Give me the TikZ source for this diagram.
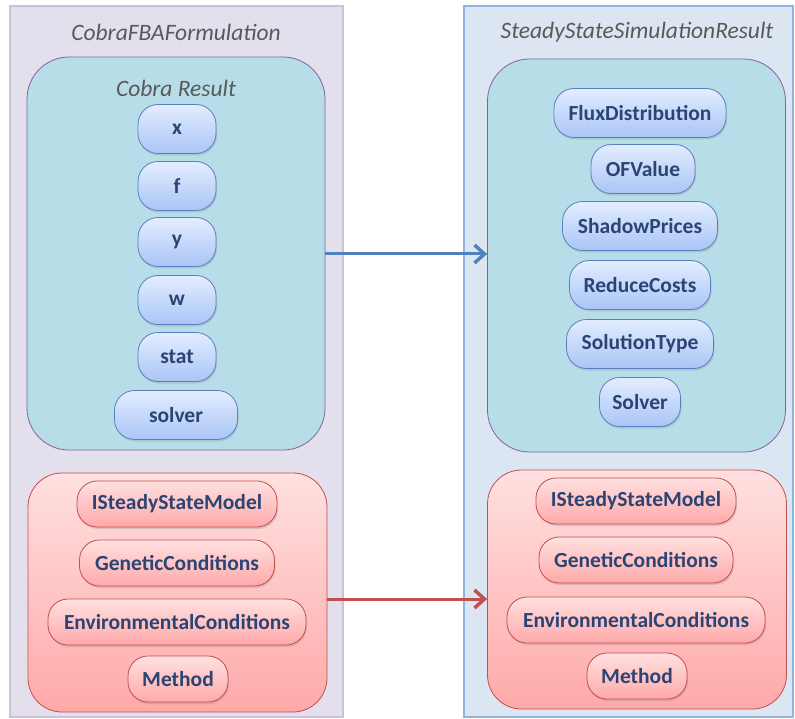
\documentclass[tikz,border=0pt]{standalone}
\usepackage{fontspec}
\setmainfont{Carlito}
\usetikzlibrary{arrows.meta,shadows}

\definecolor{lavfill}{HTML}{E4DFEC}
\definecolor{lavline}{HTML}{CCC0DA}
\definecolor{bluefill}{HTML}{DCE6F2}
\definecolor{blueline}{HTML}{8DB4E2}
\definecolor{cyanfill}{HTML}{B7DDE8}
\definecolor{boxline}{HTML}{8064A2}
\definecolor{pilltop}{HTML}{E3EDFF}
\definecolor{pillbot}{HTML}{A9C5F5}
\definecolor{pillline}{HTML}{5B7FBF}
\definecolor{redtop}{HTML}{FFE0E0}
\definecolor{redbot}{HTML}{FFA9A9}
\definecolor{redline}{HTML}{C0504D}
\definecolor{pilltext}{HTML}{2B4474}
\definecolor{titletext}{HTML}{595959}
\definecolor{arrowblue}{HTML}{4F81BD}

\tikzset{
  outerbox/.style={draw,line width=2.5pt,minimum width=#1},
  resbox/.style={draw=boxline,fill=cyanfill,line width=0.8pt,rounded corners=42pt,minimum width=298pt,minimum height=393pt},
  condbox/.style={draw=redline,top color=redtop,bottom color=redbot,line width=0.8pt,rounded corners=34pt,minimum width=299pt,minimum height=239pt},
  boxtitle/.style={text=titletext,font=\fontsize{23.5}{25}\selectfont\itshape},
  pill/.style={draw=pillline,top color=pilltop,bottom color=pillbot,line width=0.8pt,rounded corners=20pt,
    minimum height=49pt,minimum width=#1,text=pilltext,font=\fontsize{21.5}{23}\selectfont\bfseries,
    drop shadow={opacity=0.25,shadow xshift=1pt,shadow yshift=-2pt}},
  redpill/.style={pill=#1,draw=redline,top color=redtop,bottom color=redbot,minimum height=46pt},
  link/.style={line width=3pt,-{Straight Barb[length=10pt,width=18pt,line width=3.5pt]}}
}

\begin{document}
\begin{tikzpicture}[x=1pt,y=-1pt]
\useasboundingbox (0,0) rectangle (795,719);

% containers
\node[outerbox=333pt,draw=lavline,fill=lavfill,minimum height=711pt] (lout) at (176.5,361.5) {};
\node[outerbox=329pt,draw=blueline,fill=bluefill,minimum height=711pt] (rout) at (628.5,361.5) {};
\node[boxtitle] (ltitle) at (176,32) {CobraFBAFormulation};
\node[boxtitle] (rtitle) at (637,32) {SteadyStateSimulationResult};

\node[resbox] (lres) at (176,253.5) {};
\node[resbox] (rres) at (636.5,255.5) {};
\node[condbox] (lcond) at (177.5,592.5) {};
\node[condbox] (rcond) at (637,589.5) {};

\node[boxtitle] (lrestitle) at (176,88) {Cobra Result};

% left result fields
\node[pill=78pt] (x) at (177,129) {x};
\node[pill=78pt] (f) at (177,186) {f};
\node[pill=78pt] (y) at (177,242) {y};
\node[pill=78pt] (w) at (177,300) {w};
\node[pill=78pt] (stat) at (177,357) {stat};
\node[pill=123pt] (solver) at (176,415) {solver};

% right result fields
\node[pill=172pt] (flux) at (640,113) {FluxDistribution};
\node[pill=104pt] (ofv) at (643,169) {OFValue};
\node[pill=155pt] (shadow) at (640,226) {ShadowPrices};
\node[pill=141pt] (reduce) at (640,285) {ReduceCosts};
\node[pill=147pt] (soltype) at (640,344) {SolutionType};
\node[pill=81pt] (solv) at (640,402) {Solver};

% conditions
\node[redpill=200pt] (lmodel) at (177,504) {ISteadyStateModel};
\node[redpill=195pt] (lgen) at (177,563) {GeneticConditions};
\node[redpill=258pt] (lenv) at (177,622) {EnvironmentalConditions};
\node[redpill=100pt] (lmeth) at (178,679) {Method};

\node[redpill=200pt] (rmodel) at (636,501) {ISteadyStateModel};
\node[redpill=194pt] (rgen) at (636,560) {GeneticConditions};
\node[redpill=258pt] (renv) at (636,620) {EnvironmentalConditions};
\node[redpill=100pt] (rmeth) at (637,676) {Method};

% links
\draw[link,arrowblue] ([yshift=-0.5pt]lres.east) -- ([yshift=1.5pt]rres.west);
\draw[link,redline] ([yshift=-6.5pt]lcond.east) -- ([yshift=-9.5pt]rcond.west);
\end{tikzpicture}
\end{document}
